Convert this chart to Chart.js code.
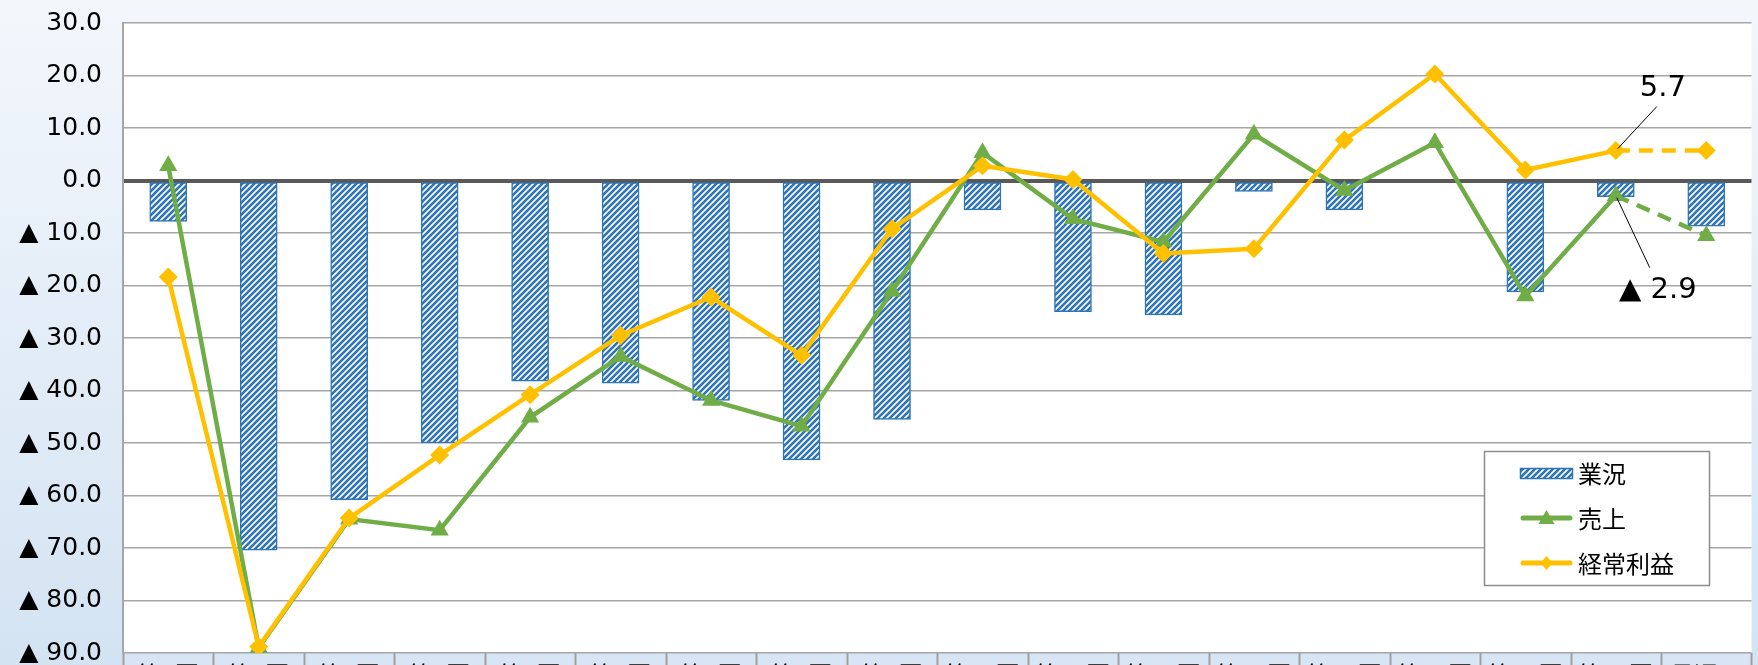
<!DOCTYPE html>
<html>
<head>
<meta charset="utf-8">
<script src="https://cdn.jsdelivr.net/npm/chart.js@4/dist/chart.umd.min.js"></script>
<style>
  html, body { margin: 0; padding: 0; overflow: hidden; background: #eef3fb; }
  #wrap { width: 1762px; height: 700px; }
</style>
</head>
<body>
<div id="wrap"><canvas id="chart" width="1762" height="700"></canvas></div>
<script>
const categories = ['第1回', '第2回', '第3回', '第4回', '第5回', '第6回', '第7回', '第8回', '第9回',
    '第10回', '第11回', '第12回', '第13回', '第14回', '第15回', '第16回', '第17回', '見通し'];
const gyokyo = [-7.8, -70.4, -60.8, -50.0, -38.2, -38.6, -41.9, -53.2, -45.5,
    -5.6, -25.0, -25.6, -2.1, -5.6, 0, -21.2, -3.1, -8.7];
const uriage = [2.8, -89.0, -64.5, -66.6, -45.1, -33.5, -41.9, -46.8, -21.1,
    5.3, -7.3, -11.7, 8.8, -1.9, 7.2, -22.0, -2.9, -10.5];
const keijo = [-18.4, -88.8, -64.3, -52.3, -40.8, -29.5, -22.2, -33.3, -9.2,
    2.8, 0.2, -13.9, -13.0, 7.7, 20.3, 2.0, 5.7, 5.7];
const yTicks = [30, 20, 10, 0, -10, -20, -30, -40, -50, -60, -70, -80, -90];
const forecastIndex = 17;   // last point is the outlook, drawn dashed
const labelIndex = 16;      // latest actual values get a callout

const BLUE = '#2e75b6', GREEN = '#70ad47', ORANGE = '#ffc000';

function fmt(v) {
    return v < 0 ? '▲ ' + Math.abs(v).toFixed(1) : v.toFixed(1);
}

function makeHatch(ctx) {
    const c = document.createElement('canvas');
    c.width = 6; c.height = 6;
    const g = c.getContext('2d');
    g.fillStyle = '#fff';
    g.fillRect(0, 0, 6, 6);
    g.strokeStyle = BLUE;
    g.lineWidth = 2.6;
    g.beginPath();
    g.moveTo(-1, 7); g.lineTo(7, -1);
    g.moveTo(-4, 4); g.lineTo(4, -4);
    g.moveTo(2, 10); g.lineTo(10, 2);
    g.stroke();
    return ctx.createPattern(c, 'repeat');
}

const canvas = document.getElementById('chart');
const ctx = canvas.getContext('2d');
const hatch = makeHatch(ctx);

/* background, plot area and the label cells under the plot */
const backdrop = {
    id: 'backdrop',
    beforeDraw(chart) {
        const { ctx, chartArea: a, scales: { x } } = chart;
        ctx.save();
        const grad = ctx.createLinearGradient(0, 0, 0, chart.height);
        grad.addColorStop(0, '#f3f7fc');
        grad.addColorStop(1, '#d2e2f2');
        ctx.fillStyle = grad;
        ctx.fillRect(0, 0, chart.width, chart.height);
        ctx.fillStyle = '#ffffff';
        ctx.fillRect(a.left, a.top, a.right - a.left, a.bottom - a.top);
        ctx.fillStyle = '#d7e5f4';
        ctx.fillRect(a.left, a.bottom, a.right - a.left, chart.height - a.bottom);
        ctx.strokeStyle = '#a0a0a0';
        ctx.lineWidth = 2;
        const half = (x.getPixelForValue(1) - x.getPixelForValue(0)) / 2;
        for (let i = 0; i <= categories.length; i++) {
            const px = Math.round(x.getPixelForValue(i) - half) + 0.5;
            ctx.beginPath();
            ctx.moveTo(px, a.bottom);
            ctx.lineTo(px, chart.height);
            ctx.stroke();
        }
        ctx.restore();
    }
};

/* callouts for the latest values */
const callouts = {
    id: 'callouts',
    afterDatasetsDraw(chart) {
        const { ctx } = chart;
        const pk = chart.getDatasetMeta(2).data[labelIndex];
        const pu = chart.getDatasetMeta(1).data[labelIndex];
        ctx.save();
        ctx.strokeStyle = '#000';
        ctx.lineWidth = 1;
        ctx.fillStyle = '#000';
        ctx.font = '29px "DejaVu Sans"';
        ctx.textAlign = 'center';
        ctx.textBaseline = 'middle';

        ctx.beginPath();
        ctx.moveTo(pk.x + 2, pk.y - 2);
        ctx.lineTo(pk.x + 41, pk.y - 44);
        ctx.stroke();
        ctx.fillText(keijo[labelIndex].toFixed(1), pk.x + 47, pk.y - 62);

        ctx.beginPath();
        ctx.moveTo(pu.x + 1, pu.y + 2);
        ctx.lineTo(pu.x + 34, pu.y + 72);
        ctx.stroke();
        ctx.fillText(fmt(uriage[labelIndex]), pu.x + 42, pu.y + 95);
        ctx.restore();
    }
};

/* legend box inside the plot */
const boxLegend = {
    id: 'boxLegend',
    afterDraw(chart) {
        const { ctx } = chart;
        const bx = 1484, by = 451, bw = 225, bh = 134;
        ctx.save();
        ctx.fillStyle = '#fff';
        ctx.fillRect(bx, by, bw, bh);
        ctx.strokeStyle = '#8c8c8c';
        ctx.lineWidth = 1.5;
        ctx.strokeRect(bx + 0.5, by + 0.5, bw, bh);

        ctx.font = '24px "Noto Sans CJK JP"';
        ctx.textBaseline = 'middle';
        const rows = [by + 22, by + 67, by + 112];
        const sx = bx + 36, sw = 53;

        ctx.fillStyle = hatch;
        ctx.fillRect(sx, rows[0] - 5, sw, 11);
        ctx.strokeStyle = BLUE;
        ctx.lineWidth = 1.5;
        ctx.strokeRect(sx + 0.5, rows[0] - 5 + 0.5, sw - 1, 10);

        const lineRow = (y, color, style) => {
            ctx.strokeStyle = color;
            ctx.lineWidth = 5;
            ctx.lineCap = 'round';
            ctx.beginPath();
            ctx.moveTo(sx + 3, y);
            ctx.lineTo(sx + sw - 3, y);
            ctx.stroke();
            ctx.fillStyle = color;
            ctx.beginPath();
            const cx = sx + sw / 2;
            if (style === 'triangle') {
                ctx.moveTo(cx, y - 8);
                ctx.lineTo(cx + 8, y + 6);
                ctx.lineTo(cx - 8, y + 6);
            } else {
                ctx.moveTo(cx, y - 7);
                ctx.lineTo(cx + 6, y);
                ctx.lineTo(cx, y + 7);
                ctx.lineTo(cx - 6, y);
            }
            ctx.closePath();
            ctx.fill();
        };
        lineRow(rows[1], GREEN, 'triangle');
        lineRow(rows[2], ORANGE, 'diamond');

        ctx.fillStyle = '#000';
        const names = chart.data.datasets.map(d => d.label);
        names.forEach((n, i) => ctx.fillText(n, sx + sw + 5, rows[i] + 1));
        ctx.restore();
    }
};

const dashLast = c => c.p1DataIndex === forecastIndex ? [14, 9] : undefined;

new Chart(ctx, {
    data: {
        labels: categories,
        datasets: [
            {
                type: 'bar',
                label: '業況',
                data: gyokyo,
                backgroundColor: hatch,
                borderColor: BLUE,
                borderWidth: 1.5,
                borderSkipped: false,
                barThickness: 37,
                order: 3
            },
            {
                type: 'line',
                label: '売上',
                data: uriage,
                borderColor: GREEN,
                backgroundColor: GREEN,
                borderWidth: 4.5,
                pointStyle: 'triangle',
                pointRadius: 10.5,
                pointBorderWidth: 0,
                tension: 0,
                segment: { borderDash: dashLast },
                order: 2
            },
            {
                type: 'line',
                label: '経常利益',
                data: keijo,
                borderColor: ORANGE,
                backgroundColor: ORANGE,
                borderWidth: 4.5,
                pointStyle: 'rectRot',
                pointRadius: 9.5,
                pointBorderWidth: 0,
                tension: 0,
                segment: { borderDash: dashLast },
                order: 1
            }
        ]
    },
    options: {
        responsive: false,
        animation: false,
        layout: { padding: { top: 23, right: 0, left: 0, bottom: 0 } },
        plugins: {
            legend: { display: false },
            tooltip: { enabled: false }
        },
        scales: {
            x: {
                offset: true,
                grid: { display: false, drawTicks: false },
                border: { display: false },
                ticks: {
                    color: '#000',
                    font: { family: '"Noto Sans CJK JP"', size: 24 },
                    padding: 7,
                    maxRotation: 0,
                    autoSkip: false
                },
                afterFit: s => { s.height = 47; }
            },
            y: {
                min: -90,
                max: 30,
                afterBuildTicks: s => { s.ticks = yTicks.map(v => ({ value: v })); },
                afterFit: s => { s.width = 123; s.paddingTop = 0; s.paddingBottom = 0; },
                grid: {
                    color: c => c.tick.value === 0 ? '#595959' : '#a6a6a6',
                    lineWidth: c => c.tick.value === 0 ? 4 : 1.5,
                    drawTicks: false
                },
                border: { color: '#a6a6a6', width: 2 },
                ticks: {
                    color: '#000',
                    font: { family: '"DejaVu Sans"', size: 25 },
                    padding: 21,
                    callback: v => fmt(v)
                }
            }
        }
    },
    plugins: [backdrop, callouts, boxLegend]
});
</script>
</body>
</html>
